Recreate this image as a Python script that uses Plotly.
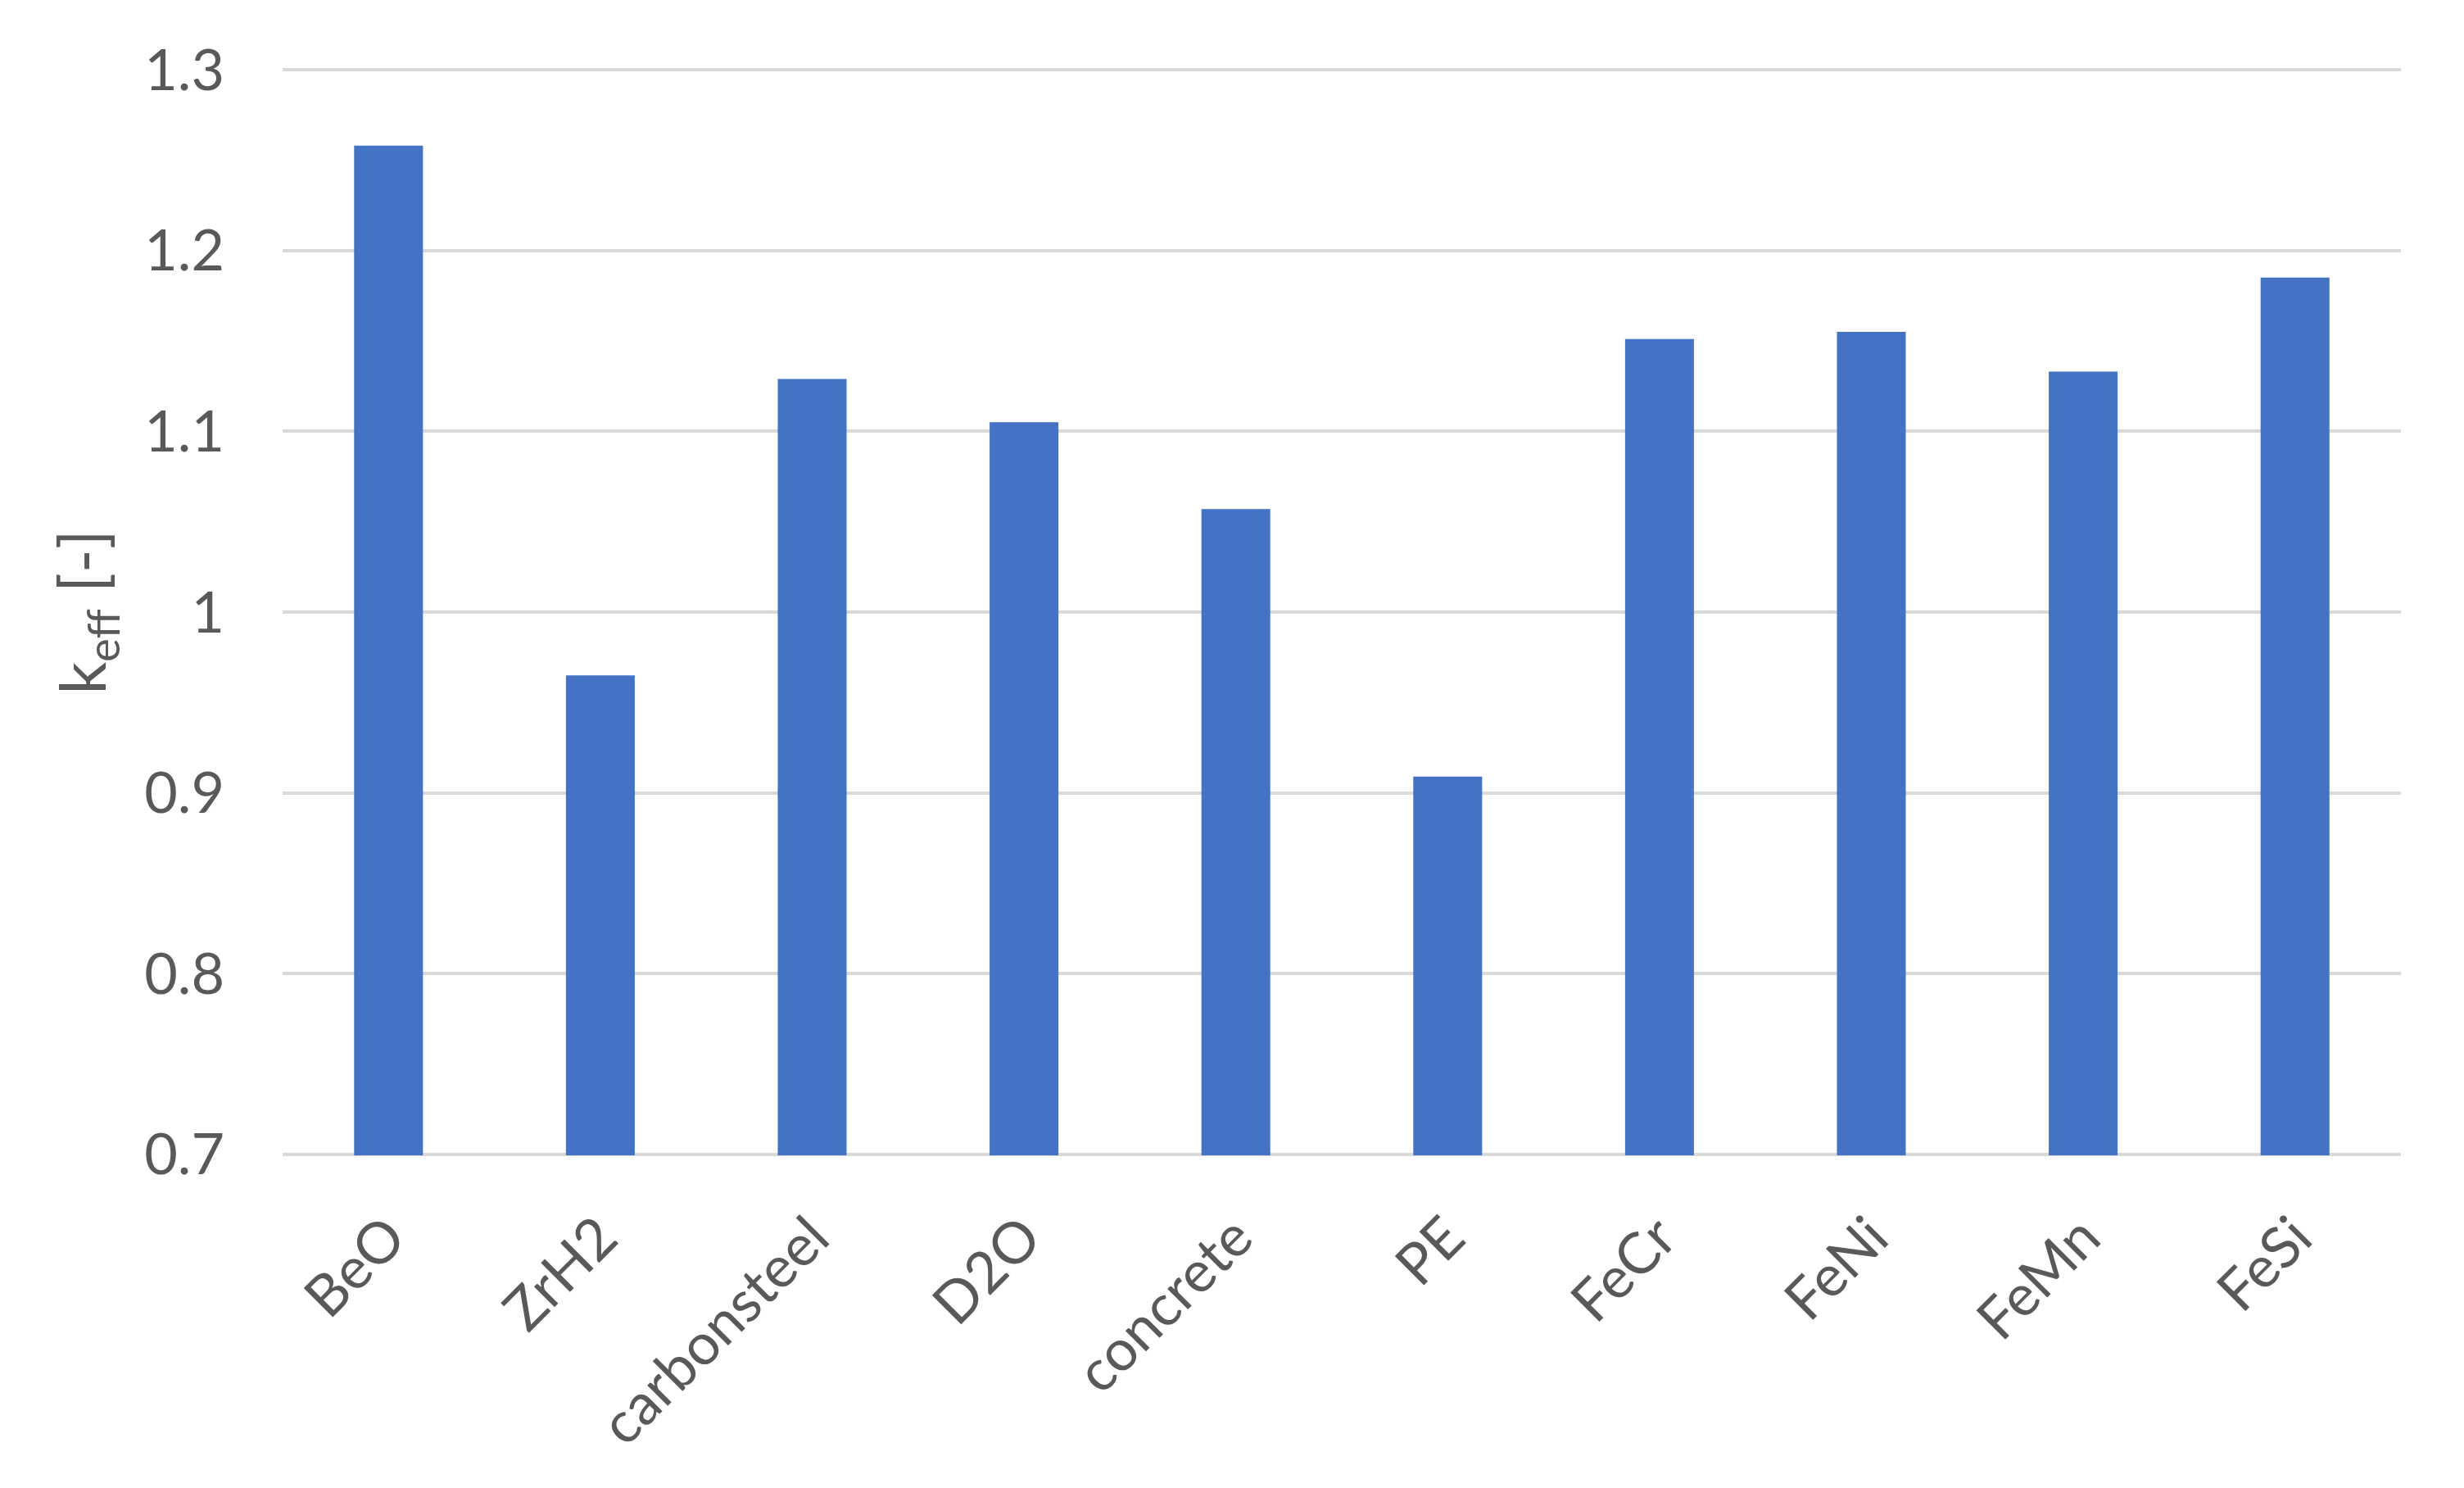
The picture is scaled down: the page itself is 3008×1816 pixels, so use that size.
import plotly.graph_objects as go

categories = ["BeO", "ZrH2", "carbonsteel", "D2O", "concrete", "PE", "FeCr", "FeNi", "FeMn", "FeSi"]
keff = [1.258, 0.965, 1.129, 1.105, 1.057, 0.909, 1.151, 1.155, 1.133, 1.185]
y_ticks = [0.7, 0.8, 0.9, 1.0, 1.1, 1.2, 1.3]
y_tick_labels = ["0.7", "0.8", "0.9", "1", "1.1", "1.2", "1.3"]

FONT = "Lato"
GREY = "#595959"

fig = go.Figure(
    go.Bar(
        x=categories,
        y=keff,
        marker=dict(color="#4472C4", line=dict(width=0)),
    )
)

fig.update_layout(
    width=3000,
    height=1808,
    margin=dict(l=337, r=77, t=76, b=406),
    paper_bgcolor="white",
    plot_bgcolor="white",
    bargap=0.675,
    showlegend=False,
    font=dict(family=FONT, color=GREY, size=70),
)

fig.update_yaxes(
    range=[0.6995, 1.3005],
    tickvals=y_ticks,
    ticktext=y_tick_labels,
    showgrid=True,
    gridcolor="#D9D9D9",
    gridwidth=4,
    zeroline=False,
    showline=False,
    ticks="",
    ticklabelstandoff=70,
    tickfont=dict(family=FONT, size=70, color=GREY),
    title=dict(text="k<sub>eff</sub> [-]", font=dict(family=FONT, size=78, color=GREY), standoff=20),
)

fig.update_xaxes(
    tickangle=-45,
    showgrid=False,
    showline=False,
    zeroline=False,
    ticks="",
    ticklabelstandoff=44,
    tickfont=dict(family=FONT, size=70, color=GREY),
)

fig.write_html("out.html")
